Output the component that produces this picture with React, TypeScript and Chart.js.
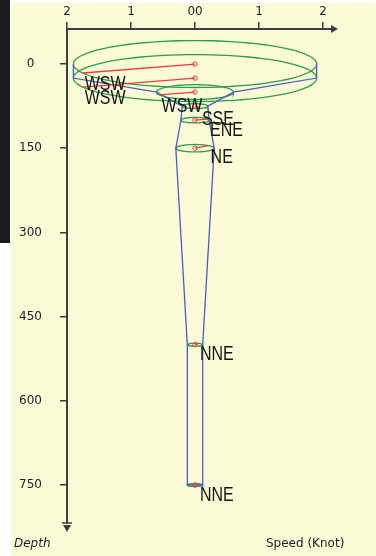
import React, { useEffect, useRef } from 'react';
import { Chart, registerables } from 'chart.js';

Chart.register(...registerables);

// ---- data ----
const depths = [0, 25, 50, 75, 100, 150, 500, 750];
const speeds = [1.9, 1.9, 0.6, 0.2, 0.22, 0.3, 0.12, 0.12];
const directions = ['WSW', 'WSW', 'WSW', 'SSE', 'ENE', 'NE', 'NNE', 'NNE'];
const depthTicks = [0, 150, 300, 450, 600, 750];
const speedTicks = [-2, -1, 0, 1, 2];
const speedTickLabels = ['2', '1', '00', '1', '2'];

const COMPASS = ['N', 'NNE', 'NE', 'ENE', 'E', 'ESE', 'SE', 'SSE', 'S', 'SSW', 'SW', 'WSW', 'W', 'WNW', 'NW', 'NNW'];
const TILT = 22; // depth units per knot (perspective of the speed circles)

const RED = '#f03a3a';
const GREEN = '#2e9c4e';
const BLUE = '#4b5cc2';
const AXIS = '#3c3c3c';
const TEXT = '#1c1c28';
const SMALL_FONT = '12px "DejaVu Sans", Verdana, sans-serif';
const LABEL_FONT = '20px "Liberation Sans", Arial, sans-serif';

function tipOf(i: number) {
  const a = (COMPASS.indexOf(directions[i]) * 22.5 * Math.PI) / 180;
  return { x: speeds[i] * Math.sin(a), y: depths[i] - speeds[i] * Math.cos(a) * TILT };
}

function ellipsePoints(i: number) {
  const pts: { x: number; y: number }[] = [];
  const n = 96;
  for (let k = 0; k <= n; k++) {
    const t = (k / n) * Math.PI * 2;
    pts.push({ x: speeds[i] * Math.cos(t), y: depths[i] + speeds[i] * Math.sin(t) * TILT });
  }
  return pts;
}

const backgroundPlugin = {
  id: 'bg',
  beforeDraw(chart: any) {
    const ctx = chart.ctx;
    ctx.save();
    ctx.fillStyle = '#ffffff';
    ctx.fillRect(0, 0, chart.width, chart.height);
    ctx.fillStyle = '#1b1b1b';
    ctx.fillRect(0, 0, 10, 243);
    ctx.fillStyle = '#fafad6';
    ctx.fillRect(11, 3, chart.width - 11, chart.height - 3);
    ctx.restore();
  },
};

const overlayPlugin = {
  id: 'overlay',
  afterDraw(chart: any) {
    const ctx = chart.ctx;
    const xs = chart.scales.x;
    const ys = chart.scales.y;
    const area = chart.chartArea;
    ctx.save();
    // axis arrow heads
    ctx.fillStyle = AXIS;
    ctx.strokeStyle = AXIS;
    ctx.lineWidth = 1.5;
    ctx.beginPath();
    ctx.moveTo(area.right - 1, area.top - 4);
    ctx.lineTo(area.right - 1, area.top + 4);
    ctx.lineTo(area.right + 6, area.top);
    ctx.closePath();
    ctx.fill();
    ctx.beginPath();
    ctx.moveTo(area.left - 5, area.bottom);
    ctx.lineTo(area.left + 5, area.bottom);
    ctx.stroke();
    ctx.beginPath();
    ctx.moveTo(area.left - 4, area.bottom + 2);
    ctx.lineTo(area.left + 4, area.bottom + 2);
    ctx.lineTo(area.left, area.bottom + 9);
    ctx.closePath();
    ctx.fill();

    // direction labels (narrow, tall lettering)
    ctx.fillStyle = '#141414';
    ctx.font = LABEL_FONT;
    ctx.textAlign = 'left';
    ctx.textBaseline = 'alphabetic';
    for (let i = 0; i < depths.length; i++) {
      const t = tipOf(i);
      const px = xs.getPixelForValue(t.x);
      const py = ys.getPixelForValue(t.y);
      ctx.save();
      ctx.translate(px + 2, py + 17);
      ctx.scale(0.8, 1);
      ctx.fillText(directions[i], 0, 0);
      ctx.restore();
    }

    // axis titles
    ctx.fillStyle = TEXT;
    ctx.font = 'italic ' + SMALL_FONT;
    ctx.fillText('Depth', 14, 547);
    ctx.font = SMALL_FONT;
    ctx.fillText('Speed (Knot)', 266, 547);
    ctx.restore();
  },
};

export default function App() {
  const ref = useRef<HTMLCanvasElement | null>(null);

  useEffect(() => {
    if (!ref.current) return;
    const datasets: any[] = [];

    // red direction arrows (drawn on top)
    for (let i = 0; i < depths.length; i++) {
      datasets.push({
        type: 'line',
        data: [{ x: 0, y: depths[i] }, tipOf(i)],
        borderColor: RED,
        borderWidth: 1.3,
        pointRadius: [2.2, 0],
        pointBorderColor: RED,
        pointBackgroundColor: 'rgba(0,0,0,0)',
        pointBorderWidth: 1,
        showLine: true,
        tension: 0,
      });
    }

    // blue envelope
    const envelope: { x: number; y: number }[] = [];
    for (let i = 0; i < depths.length; i++) envelope.push({ x: -speeds[i], y: depths[i] });
    for (let i = depths.length - 1; i >= 0; i--) envelope.push({ x: speeds[i], y: depths[i] });
    datasets.push({
      type: 'line',
      data: envelope,
      borderColor: BLUE,
      borderWidth: 1.3,
      pointRadius: 0,
      showLine: true,
      tension: 0,
    });

    // green speed circles
    for (let i = 0; i < depths.length; i++) {
      datasets.push({
        type: 'line',
        data: ellipsePoints(i),
        borderColor: GREEN,
        borderWidth: 1.3,
        pointRadius: 0,
        showLine: true,
        tension: 0,
      });
    }

    const chart = new Chart(ref.current, {
      type: 'scatter',
      data: { datasets },
      options: {
        animation: false,
        responsive: false,
        devicePixelRatio: 1,
        layout: { padding: { left: 0, top: 0, right: 44, bottom: 33 } },
        plugins: { legend: { display: false }, tooltip: { enabled: false } },
        scales: {
          x: {
            type: 'linear',
            position: 'top',
            min: -2,
            max: 2.14,
            afterBuildTicks: (s: any) => {
              s.ticks = speedTicks.map((v) => ({ value: v }));
            },
            afterFit: (s: any) => {
              s.height = 29;
            },
            grid: { drawOnChartArea: false, drawTicks: true, tickLength: 7, color: AXIS, lineWidth: 1.5 },
            border: { display: true, color: AXIS, width: 2 },
            ticks: {
              autoSkip: false,
              maxRotation: 0,
              padding: 3,
              color: TEXT,
              font: { family: '"DejaVu Sans", Verdana, sans-serif', size: 12 },
              callback: (_v: any, idx: number) => speedTickLabels[idx],
            },
          },
          y: {
            type: 'linear',
            reverse: true,
            min: -62.4,
            max: 817.7,
            afterBuildTicks: (s: any) => {
              s.ticks = depthTicks.map((v) => ({ value: v }));
            },
            afterFit: (s: any) => {
              s.width = 67;
            },
            grid: { drawOnChartArea: false, drawTicks: true, tickLength: 7, color: AXIS, lineWidth: 1.5 },
            border: { display: true, color: AXIS, width: 2 },
            ticks: {
              autoSkip: false,
              crossAlign: 'center',
              padding: 18,
              color: TEXT,
              font: { family: '"DejaVu Sans", Verdana, sans-serif', size: 12 },
              callback: (v: any) => String(v),
            },
          },
        },
      },
      plugins: [backgroundPlugin, overlayPlugin],
    } as any);

    return () => chart.destroy();
  }, []);

  return (
    <div style={{ position: 'absolute', left: 0, top: 0, width: 376, height: 556 }}>
      <canvas ref={ref} width={376} height={556} style={{ display: 'block', width: 376, height: 556 }} />
    </div>
  );
}
